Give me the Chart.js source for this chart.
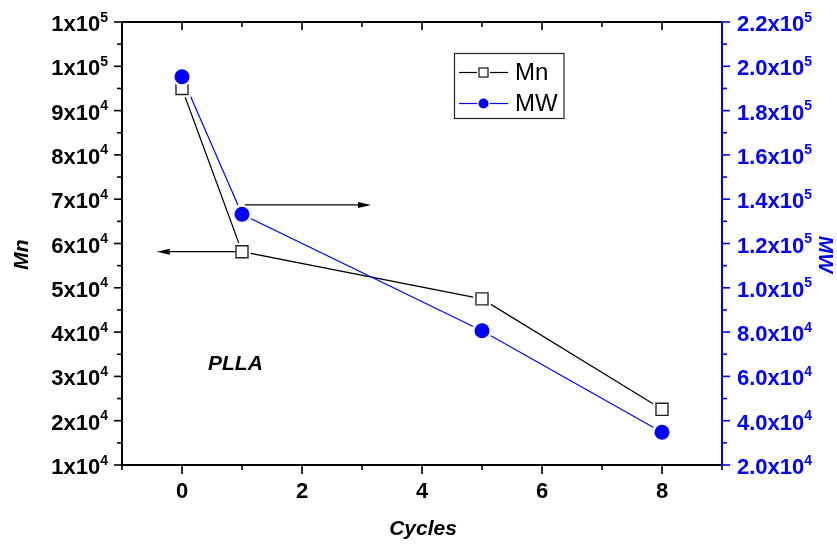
<html>

<head>
    <title>PLLA Mn / MW vs cycles</title>
    <script src="https://cdn.jsdelivr.net/npm/chart.js"></script>
    <style>
        body {
            margin: 0;
            background: #fff;
        }

        #wrap {
            width: 837px;
            height: 545px;
        }
    </style>
</head>

<body>
    <div id="wrap"><canvas id="myChart" width="837" height="545"></canvas></div>

    <script>
        // data
        const cycles = [0, 1, 5, 8]
        const mnValues = [95000, 58150, 47500, 22570]
        const mwValues = [195300, 133200, 80600, 34760]

        // axes
        const xTicks = [0, 2, 4, 6, 8]
        const xTickLabels = ['0', '2', '4', '6', '8']
        const xMinorTicks = [-1, 1, 3, 5, 7, 9]
        const mnTicks = [10000, 20000, 30000, 40000, 50000, 60000, 70000, 80000, 90000, 100000, 110000]
        const mnTickLabels = ['1x10^4', '2x10^4', '3x10^4', '4x10^4', '5x10^4', '6x10^4', '7x10^4', '8x10^4', '9x10^4', '1x10^5', '1x10^5']
        const mnMinorTicks = [15000, 25000, 35000, 45000, 55000, 65000, 75000, 85000, 95000, 105000]
        const mwTicks = [20000, 40000, 60000, 80000, 100000, 120000, 140000, 160000, 180000, 200000, 220000]
        const mwTickLabels = ['2.0x10^4', '4.0x10^4', '6.0x10^4', '8.0x10^4', '1.0x10^5', '1.2x10^5', '1.4x10^5', '1.6x10^5', '1.8x10^5', '2.0x10^5', '2.2x10^5']
        const mwMinorTicks = [30000, 50000, 70000, 90000, 110000, 130000, 150000, 170000, 190000, 210000]

        // the two arrows (which axis the curve belongs to)
        const arrowFrom = [1.05, 0.89]
        const arrowTo = [3.15, -0.42]
        const arrowAt = [137400, 58150]
        const arrowAxis = ['y2', 'y']

        const sampleName = 'PLLA'
        const samplePos = [0.89, 32800]

        const BLUE = '#0000ff'
        const FONT = '"Liberation Sans", Arial, sans-serif'
        const tickFont = 'bold 22px ' + FONT
        const supFont = 'bold 14px ' + FONT
        const titleFont = 'italic bold 21px ' + FONT

        function toPoints(ys) {
            return cycles.map((c, i) => ({ x: c, y: ys[i] }))
        }

        // "1x10^4" -> base + superscript
        function powerLabel(ctx, text, x, y, align) {
            const parts = text.split('^')
            ctx.font = tickFont
            const wb = ctx.measureText(parts[0]).width
            ctx.font = supFont
            const we = ctx.measureText(parts[1]).width
            const left = align === 'right' ? x - wb - we : x
            ctx.textAlign = 'left'
            ctx.textBaseline = 'alphabetic'
            ctx.font = tickFont
            ctx.fillText(parts[0], left, y + 9)
            ctx.font = supFont
            ctx.fillText(parts[1], left + wb, y - 0.5)
        }

        function line(ctx, x1, y1, x2, y2) {
            ctx.beginPath()
            ctx.moveTo(x1, y1)
            ctx.lineTo(x2, y2)
            ctx.stroke()
        }

        function arrow(ctx, x1, y, x2) {
            const dir = x2 > x1 ? 1 : -1
            ctx.lineWidth = 1.3
            line(ctx, x1, y, x2 - dir * 10, y)
            ctx.beginPath()
            ctx.moveTo(x2, y)
            ctx.lineTo(x2 - dir * 13, y - 3)
            ctx.lineTo(x2 - dir * 13, y + 3)
            ctx.closePath()
            ctx.fill()
        }

        const frame = {
            id: 'frame',
            afterDatasetsDraw(chart) {
                const ctx = chart.ctx
                const a = chart.chartArea
                const sx = chart.scales.x, sy = chart.scales.y, sy2 = chart.scales.y2
                ctx.save()
                ctx.lineCap = 'butt'

                // black frame: left, bottom, top
                ctx.strokeStyle = '#000'
                ctx.fillStyle = '#000'
                ctx.lineWidth = 2
                line(ctx, a.left, a.top - 1, a.left, a.bottom + 1)
                line(ctx, a.left - 1, a.bottom, a.right, a.bottom)
                line(ctx, a.left - 1, a.top, a.right, a.top)

                ctx.lineWidth = 1.6
                mnTicks.forEach(v => line(ctx, a.left - 8, sy.getPixelForValue(v), a.left, sy.getPixelForValue(v)))
                mnMinorTicks.forEach(v => line(ctx, a.left - 5, sy.getPixelForValue(v), a.left, sy.getPixelForValue(v)))
                xTicks.forEach(v => {
                    const px = sx.getPixelForValue(v)
                    line(ctx, px, a.bottom, px, a.bottom + 9)
                    line(ctx, px, a.top, px, a.top + 8)
                })
                xMinorTicks.forEach(v => {
                    const px = sx.getPixelForValue(v)
                    line(ctx, px, a.bottom, px, a.bottom + 5)
                    line(ctx, px, a.top, px, a.top + 5)
                })

                mnTicks.forEach((v, i) => powerLabel(ctx, mnTickLabels[i], a.left - 14, sy.getPixelForValue(v), 'right'))

                ctx.font = tickFont
                ctx.textAlign = 'center'
                ctx.textBaseline = 'alphabetic'
                xTicks.forEach((v, i) => ctx.fillText(xTickLabels[i], sx.getPixelForValue(v), a.bottom + 33))

                // blue right axis
                ctx.strokeStyle = BLUE
                ctx.fillStyle = BLUE
                ctx.lineWidth = 2
                line(ctx, a.right, a.top - 1, a.right, a.bottom + 1)
                ctx.lineWidth = 1.6
                mwTicks.forEach(v => line(ctx, a.right, sy2.getPixelForValue(v), a.right + 8, sy2.getPixelForValue(v)))
                mwMinorTicks.forEach(v => line(ctx, a.right, sy2.getPixelForValue(v), a.right + 5, sy2.getPixelForValue(v)))
                mwTicks.forEach((v, i) => powerLabel(ctx, mwTickLabels[i], a.right + 15, sy2.getPixelForValue(v), 'left'))

                // axis titles
                const midY = (a.top + a.bottom) / 2 + 11
                ctx.font = titleFont
                ctx.textAlign = 'center'
                ctx.textBaseline = 'middle'
                ctx.fillStyle = '#000'
                ctx.save()
                ctx.translate(22, midY)
                ctx.rotate(-Math.PI / 2)
                ctx.fillText('Mn', 0, 0)
                ctx.restore()
                ctx.save()
                ctx.fillStyle = BLUE
                ctx.translate(825, midY)
                ctx.rotate(Math.PI / 2)
                ctx.fillText('MW', 0, 0)
                ctx.restore()
                ctx.fillText('Cycles', (a.left + a.right) / 2 + 1, a.bottom + 64)
                ctx.fillText(sampleName, sx.getPixelForValue(samplePos[0]), sy.getPixelForValue(samplePos[1]))

                // arrows
                ctx.strokeStyle = '#000'
                ctx.fillStyle = '#000'
                arrowFrom.forEach((f, i) => {
                    const s = chart.scales[arrowAxis[i]]
                    arrow(ctx, sx.getPixelForValue(f), s.getPixelForValue(arrowAt[i]), sx.getPixelForValue(arrowTo[i]))
                })

                // legend box
                ctx.lineWidth = 1.2
                ctx.strokeStyle = '#222'
                ctx.strokeRect(454.5, 53.5, 109.5, 65)
                ctx.font = '24px ' + FONT
                ctx.textAlign = 'left'
                ctx.textBaseline = 'middle'
                const rows = [{ y: 72.5, color: '#000' }, { y: 103.5, color: BLUE }]
                rows.forEach((r, i) => {
                    ctx.strokeStyle = r.color
                    ctx.lineWidth = 1.2
                    line(ctx, 459, r.y, 477, r.y)
                    line(ctx, 490, r.y, 508, r.y)
                    if (i === 0) {
                        ctx.fillStyle = '#fff'
                        ctx.fillRect(479, r.y - 4.5, 9, 9)
                        ctx.strokeStyle = '#222'
                        ctx.lineWidth = 1.3
                        ctx.strokeRect(479, r.y - 4.5, 9, 9)
                    } else {
                        ctx.fillStyle = BLUE
                        ctx.beginPath()
                        ctx.arc(483.5, r.y, 5, 0, Math.PI * 2)
                        ctx.fill()
                    }
                    ctx.fillStyle = '#000'
                    ctx.fillText(chart.data.datasets[i].label, 515, r.y + 1)
                })
                ctx.restore()
            }
        }

        var ctx = document.getElementById('myChart').getContext('2d')

        var myChart = new Chart(ctx, {
            type: 'line',
            data: {
                datasets: [{
                    label: 'Mn',
                    data: toPoints(mnValues),
                    borderColor: '#000',
                    borderWidth: 1.2,
                    pointRadius: 0,
                    order: 6
                },
                {
                    label: 'MW',
                    data: toPoints(mwValues),
                    yAxisID: 'y2',
                    borderColor: BLUE,
                    borderWidth: 1.2,
                    pointRadius: 0,
                    order: 5
                },
                {
                    // white halo so the line stops short of the marker
                    label: 'Mn halo',
                    data: toPoints(mnValues),
                    showLine: false,
                    pointStyle: 'rect',
                    pointRadius: 12.5,
                    pointBackgroundColor: '#fff',
                    pointBorderWidth: 0,
                    order: 4
                },
                {
                    label: 'Mn marks',
                    data: toPoints(mnValues),
                    showLine: false,
                    pointStyle: 'rect',
                    pointRadius: 8.5,
                    pointBackgroundColor: '#fff',
                    pointBorderColor: '#222',
                    pointBorderWidth: 1.4,
                    order: 3
                },
                {
                    label: 'MW halo',
                    data: toPoints(mwValues),
                    yAxisID: 'y2',
                    showLine: false,
                    pointRadius: 10,
                    pointBackgroundColor: '#fff',
                    pointBorderWidth: 0,
                    order: 2
                },
                {
                    label: 'MW marks',
                    data: toPoints(mwValues),
                    yAxisID: 'y2',
                    showLine: false,
                    pointRadius: 7.5,
                    pointBackgroundColor: BLUE,
                    pointBorderColor: BLUE,
                    pointBorderWidth: 0,
                    order: 1
                }]
            },
            options: {
                responsive: false,
                animation: false,
                events: [],
                layout: { padding: { left: 122, right: 115, top: 22, bottom: 80 } },
                plugins: { legend: { display: false }, tooltip: { enabled: false } },
                scales: {
                    x: { type: 'linear', min: -1, max: 9, display: false },
                    y: { min: 10000, max: 110000, display: false },
                    y2: { min: 20000, max: 220000, display: false, position: 'right' }
                }
            },
            plugins: [frame]
        });
    </script>
</body>

</html>
